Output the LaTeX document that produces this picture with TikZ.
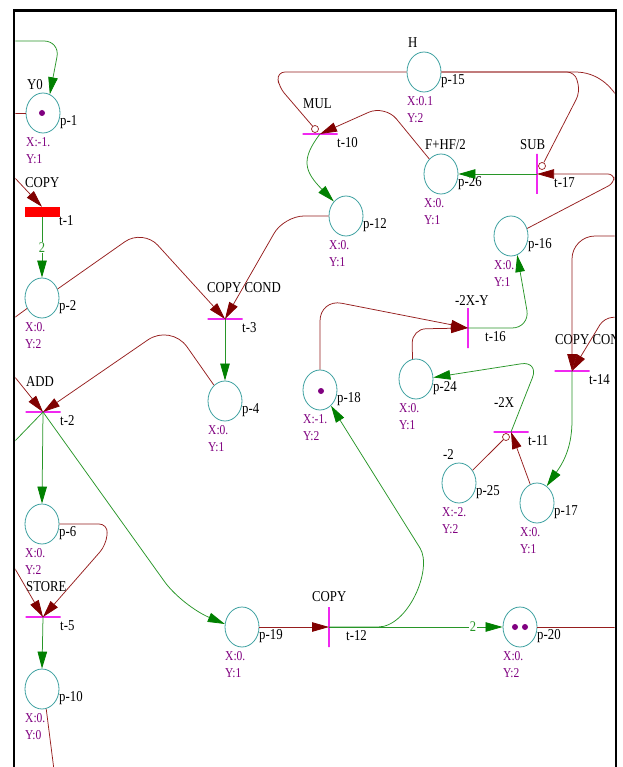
\documentclass[tikz,border=0pt]{standalone}
\usepackage{fontspec}
\setmainfont{Liberation Serif}
\usepackage{graphicx}
\usetikzlibrary{shapes.geometric,arrows.meta}
\definecolor{arcred}{RGB}{150,30,30}
\definecolor{headred}{RGB}{128,0,0}
\definecolor{arcgreen}{RGB}{40,150,40}
\definecolor{headgreen}{RGB}{0,128,0}
\definecolor{placec}{RGB}{60,160,160}
\definecolor{purp}{RGB}{128,0,128}
\definecolor{tmag}{RGB}{240,40,240}
\newcommand\vsc[1]{\scalebox{1}[1.18]{#1}}
\newcommand\mkplace[6]{%
  \node[pl] (#1) at (#2,#3) {};
  \node[lab] (#1n) at ([shift={(17,9)}]#1.center) {\vsc{#4}};
  \node[xy] (#1x) at ([shift={(-17,29)}]#1.center) {\vsc{#5}};
  \node[xy] (#1y) at ([shift={(-17,46)}]#1.center) {\vsc{#6}};
}
\newcommand\mktrans[5]{%
  \node[#2] (#1) at (#3,#4) {};
  \node[lab] (#1n) at ([shift={(17,9)}]#1.center) {\vsc{#5}};
}
\begin{document}
\begin{tikzpicture}[x=1pt,y=-1pt,
 pl/.style={ellipse, draw=placec, line width=0.8pt, minimum width=34pt, minimum height=40pt, inner sep=0pt},
 trh/.style={rectangle, draw=tmag, line width=1.4pt, minimum width=35pt, minimum height=0pt, inner sep=0pt},
 trv/.style={rectangle, draw=tmag, line width=1.4pt, minimum width=0pt, minimum height=40pt, inner sep=0pt},
 trf/.style={rectangle, fill=red, minimum width=35pt, minimum height=10pt, inner sep=0pt},
 inh/.style={circle, draw=arcred, line width=0.7pt, fill=white, minimum size=7pt, inner sep=0pt},
 tok/.style={circle, fill=purp, minimum size=6pt, inner sep=0pt},
 lab/.style={inner sep=0pt, anchor=west, font=\fontsize{12.8}{14}\selectfont},
 xy/.style={inner sep=0pt, anchor=west, text=purp, font=\fontsize{11.5}{12}\selectfont},
 wt/.style={inner sep=1pt, fill=white, text=arcgreen, font=\fontsize{12.5}{13}\selectfont},
 ra/.style={draw=arcred, line width=0.75pt, -{Triangle[length=17pt,width=9.5pt,color=headred]}},
 ga/.style={draw=arcgreen, line width=0.75pt, -{Triangle[length=17pt,width=9.5pt,color=headgreen]}},
 rl/.style={draw=arcred, line width=0.75pt},
 gl/.style={draw=arcgreen, line width=0.75pt}
]
\fill[white] (0,0) rectangle (622,767);
\useasboundingbox (0,0) rectangle (622,767);
\begin{scope}
\clip (15.3,11.8) rectangle (614.7,770);
% places
\mkplace{p1}{43}{113}{p-1}{X:-1.}{Y:1}
\mkplace{p2}{42}{298}{p-2}{X:0.}{Y:2}
\mkplace{p4}{225}{401}{p-4}{X:0.}{Y:1}
\mkplace{p6}{42}{524}{p-6}{X:0.}{Y:2}
\mkplace{p10}{42}{689}{p-10}{X:0.}{Y:0}
\mkplace{p19}{242}{627}{p-19}{X:0.}{Y:1}
\mkplace{p20}{520}{627}{p-20}{X:0.}{Y:2}
\mkplace{p25}{459}{483}{p-25}{X:-2.}{Y:2}
\mkplace{p17}{537}{503}{p-17}{X:0.}{Y:1}
\mkplace{p18}{320}{390}{p-18}{X:-1.}{Y:2}
\mkplace{p24}{416}{379}{p-24}{X:0.}{Y:1}
\mkplace{p16}{511}{236}{p-16}{X:0.}{Y:1}
\mkplace{p12}{346}{216}{p-12}{X:0.}{Y:1}
\mkplace{p26}{441}{174}{p-26}{X:0.}{Y:1}
\mkplace{p15}{424}{72}{p-15}{X:0.1}{Y:2}
% transitions
\mktrans{t1}{trf}{42}{212}{t-1}
\mktrans{t3}{trh}{225}{319}{t-3}
\mktrans{t2}{trh}{43}{412}{t-2}
\mktrans{t5}{trh}{43}{617}{t-5}
\mktrans{t10}{trh}{320}{134}{t-10}
\mktrans{t17}{trv}{537}{174}{t-17}
\mktrans{t16}{trv}{468}{328}{t-16}
\mktrans{t11}{trh}{511}{432}{t-11}
\mktrans{t14}{trh}{572}{371}{t-14}
\mktrans{t12}{trv}{329}{627}{t-12}
% name labels
\node[lab] (p1t) at (27,85) {\vsc{Y0}};
\node[lab] (p15t) at (408,43) {\vsc{H}};
\node[lab] (p26t) at (425,145) {\vsc{F+HF/2}};
\node[lab] (p25t) at (443,454) {\vsc{-2}};
\node[lab] (t1t) at (25,183) {\vsc{COPY}};
\node[lab] (t3t) at (207,288) {\vsc{COPY COND}};
\node[lab] (t2t) at (26,382) {\vsc{ADD}};
\node[lab] (t5t) at (26,587) {\vsc{STORE}};
\node[lab] (t10t) at (303,104) {\vsc{MUL}};
\node[lab] (t17t) at (520,145) {\vsc{SUB}};
\node[lab] (t16t) at (455,300) {\vsc{-2X-Y}};
\node[lab] (t11t) at (494,402) {\vsc{-2X}};
\node[lab] (t14t) at (555,340) {\vsc{COPY CON}};
\node[lab] (t12t) at (312,597) {\vsc{COPY}};
% tokens
\node[tok] (k1) at (42,113) {};
\node[tok] (k18) at (321,391) {};
\node[tok] (k20a) at (515,627) {};
\node[tok] (k20b) at (525,627) {};
% inhibitor circles
\node[inh] (i10) at (315,129) {};
\node[inh] (i11) at (506,437) {};
\node[inh] (i17) at (542,166) {};
% free ends
\coordinate (e1) at (14,41);
\coordinate (e2) at (14,113);
\coordinate (e3) at (14,177);
\coordinate (e7) at (14,318);
\coordinate (e10) at (14,376);
\coordinate (e11) at (14,442);
\coordinate (e15) at (14,567);
\coordinate (e17) at (54,770);
\coordinate (e21) at (618,627);
\coordinate (e28) at (620,102);
\coordinate (e35) at (618,236);
\coordinate (e36) at (618,317);
% arcs
\draw[ga, rounded corners=16pt] (e1) -- (60,41) -- (p1.70);
\draw[rl] (p1.west) -- (e2);
\draw[ra] (e3) -- (t1.north);
\draw[ga] (t1.south) -- node[wt] (w1) {\vsc{2}} (p2.north);
\draw[ra, rounded corners=22pt] (p2.30) -- (143,229) -- (t3.center);
\draw[ra, rounded corners=20pt] (p12.west) -- (284,216) -- (t3.center);
\draw[rl] (p2.215) -- (e7);
\draw[ga] (t3.center) -- (p4.north);
\draw[ra, rounded corners=28pt] (p4.125) -- (171,324) -- (t2.center);
\draw[ra] (e10) -- (t2.center);
\draw[gl] (t2.center) -- (e11);
\draw[ga] (t2.center) -- (p6.north);
\draw[ga, rounded corners=30pt] (t2.center) -- (182,606) -- (p19.170);
\draw[ra, rounded corners=9pt] (p6.east) -- (108,524) -- (106,545) -- (t5.center);
\draw[ra] (e15) -- (t5.center);
\draw[ga] (t5.center) -- (p10.north);
\draw[rl] (p10.-78) -- (e17);
\draw[ra] (p19.east) -- (t12.center);
\draw[ga] (t12.center) -- node[wt, pos=0.83] (w2) {\vsc{2}} (p20.west);
\draw[ga] (t12.center) -- (378,627) .. controls (408,627) and (433,569) .. (420,548) -- (p18.-55);
\draw[rl] (p20.east) -- (e21);
\draw[ra, rounded corners=22pt] (p18.north) -- (320,299) -- (t16.center);
\draw[ra, rounded corners=14pt] (p24.100) -- (412,329) -- (t16.center);
\draw[ga, rounded corners=18pt] (t16.center) -- (530,328) -- (p16.-72);
\draw[ra, rounded corners=6pt] (p16.25) -- (614,183) -- (614,174) -- (t17.center);
\draw[ga] (t17.center) -- (p26.east);
\draw[rl, rounded corners=8pt] (p15.east) -- (575,72) -- (580,92) -- (i17);
\draw[rl] (p15.east) -- (575,72) .. controls (597,72) and (612,86) .. (e28);
\draw[rl, rounded corners=8pt] (p15.west) -- (277,72) -- (279,87) -- (i10);
\draw[ra, rounded corners=18pt] (p26.128) -- (385,105) -- (t10.center);
\draw[ga] (t10.center) .. controls (300,160) and (305,172) .. (p12.130);
\draw[rl] (p25.43) -- (i11);
\draw[ra] (p17.110) -- (t11.center);
\draw[ga, rounded corners=18pt] (t11.center) -- (539,361) -- (p24.5);
\draw[ra, rounded corners=23pt] (e35) -- (572,236) -- (t14.center);
\draw[ra, rounded corners=8pt] (e36) -- (604,318) -- (t14.center);
\draw[ga] (t14.center) -- (572,420) .. controls (572,445) and (565,460) .. (p17.60);
\end{scope}
% window frame
\draw[line width=2.6pt] (14,767) -- (14,10.5) -- (616,10.5) -- (616,767);
\end{tikzpicture}
\end{document}
